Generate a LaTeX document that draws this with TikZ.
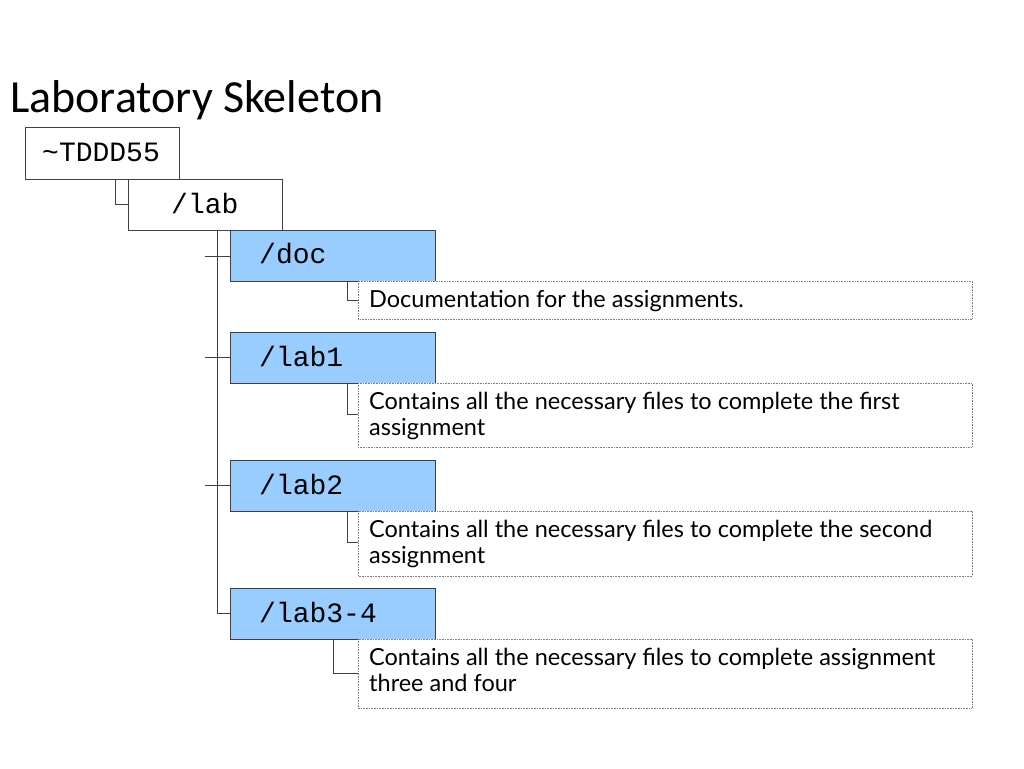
\documentclass[tikz,border=0pt]{standalone}
\usepackage{fontspec}
\setmainfont{Lato}
\newfontfamily\titlefont{Carlito}
\setmonofont{Liberation Mono}
\definecolor{dirblue}{HTML}{99CCFF}
\definecolor{edge}{HTML}{404040}
\begin{document}
\begin{tikzpicture}[x=1pt,y=-1pt,
  dir/.style={draw=edge,line width=0.8pt,fill=dirblue},
  rootdir/.style={draw=edge,line width=0.8pt,fill=white},
  desc/.style={draw=gray,densely dotted,line width=0.6pt,fill=white},
  lnk/.style={draw=edge,line width=0.8pt},
  dtxt/.style={anchor=base west,align=left,font=\fontsize{23.5}{26}\selectfont,inner sep=0pt},
  dtxtm/.style={anchor=north west,align=left,font=\fontsize{23.5}{26}\selectfont,inner sep=0pt},
  mtxt/.style={anchor=west,font=\ttfamily\fontsize{28}{30}\selectfont,inner sep=0pt}]
\useasboundingbox (0,0) rectangle (1024,768);
\node[anchor=base west,inner sep=0pt,font=\titlefont\fontsize{46}{52}\selectfont] (title) at (10,112) {Laboratory Skeleton};
% lines
\draw[lnk] (115,179) |- (128,204);
\draw[lnk] (217,230) |- (230,613);
\foreach \y in {256,357,485} \draw[lnk] (205,\y) -- (230,\y);
\draw[lnk] (347,281) |- (358,300);
\draw[lnk] (347,383) |- (358,414);
\draw[lnk] (347,511) |- (358,542);
\draw[lnk] (333,639) |- (358,673);
% boxes
\draw[rootdir] (25,127) rectangle (179,179);
\node[mtxt] (root) at (42,152) {\textasciitilde TDDD55};
\draw[rootdir] (128,179) rectangle (282,230);
\node[mtxt] (lab) at (171,203) {/lab};
\draw[dir] (230,230) rectangle (435,281);
\node[mtxt] (doc) at (259,254) {/doc};
\draw[dir] (230,332) rectangle (435,383);
\node[mtxt] (lab1) at (259,356) {/lab1};
\draw[dir] (230,460) rectangle (435,511);
\node[mtxt] (lab2) at (259,484) {/lab2};
\draw[dir] (230,588) rectangle (435,639);
\node[mtxt] (lab34) at (259,612) {/lab3-4};
\draw[desc] (358,281) rectangle (972,319);
\node[dtxt] (d0) at (369,307) {Documentation for the assignments.};
\draw[desc] (358,383) rectangle (972,447);
\node[dtxtm] (d1) at (369,392) {Contains all the necessary files to complete the first\\assignment};
\draw[desc] (358,511) rectangle (972,576);
\node[dtxtm] (d2) at (369,520) {Contains all the necessary files to complete the second\\assignment};
\draw[desc] (358,639) rectangle (972,708);
\node[dtxtm] (d3) at (369,648) {Contains all the necessary files to complete assignment\\three and four};
\end{tikzpicture}
\end{document}
